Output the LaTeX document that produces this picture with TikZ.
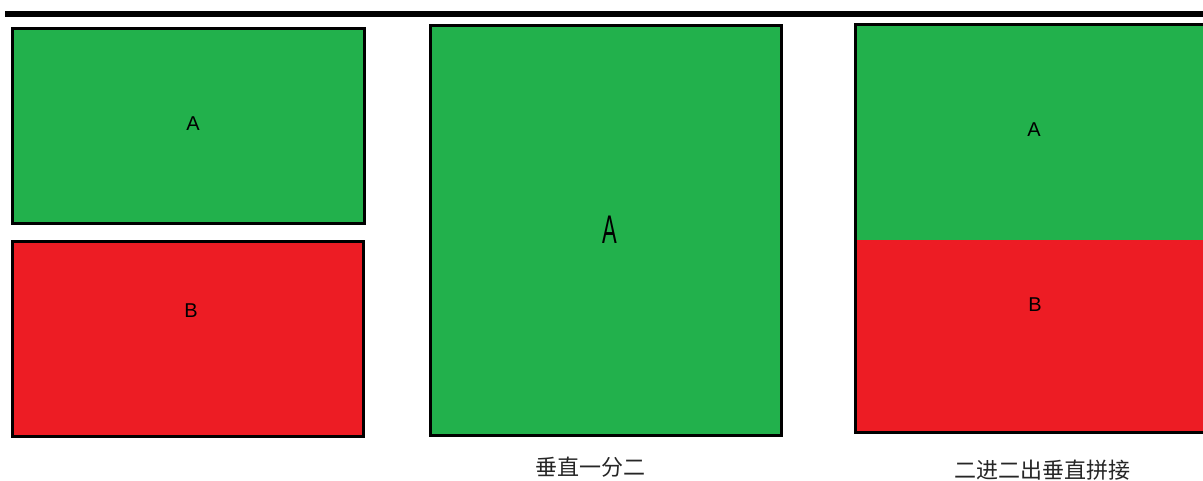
\documentclass[tikz,border=0pt]{standalone}
\usepackage{fontspec}
\setmainfont{Liberation Sans}
\newfontfamily\cjk{Noto Sans CJK SC}
\usepackage{xcolor}
\usetikzlibrary{positioning}
\definecolor{spGreen}{HTML}{22B14C}
\definecolor{spRed}{HTML}{ED1C24}
\definecolor{spInk}{HTML}{000000}
\tikzset{
  sp diagram/.style={font=\fontsize{20}{23}\selectfont, text=spInk},
  sp box/.style={draw=spInk, line width=3pt, inner sep=0pt, outer sep=0pt},
  sp green/.style={sp box, fill=spGreen},
  sp red/.style={sp box, fill=spRed},
  sp caption/.style={font=\cjk\fontsize{22}{25}\selectfont, text=spInk!85}
}
\begin{document}
\begin{tikzpicture}[sp diagram,x=1pt,y=-1pt]
\useasboundingbox (0,0) rectangle (1203,481);
\draw[line width=6pt] (5,14) -- (1210,14);
% two inputs
\node[sp green,minimum width=352,minimum height=195] (inA) at (188.5,126) {};
\node (inAlabel) at (193,124) {A};
\node[sp red,minimum width=351,minimum height=195] (inB) at (188,339) {};
\node (inBlabel) at (191,311) {B};
% vertical split
\node[sp green,minimum width=351,minimum height=409] (split) at (606,230.5) {};
\node[xscale=0.55,font=\fontsize{40}{42}\selectfont] (splitA) at (610,230) {A};
\node[sp caption] (splitCap) at (590,467) {垂直一分二};
% vertical join
\fill[spGreen] (855,25) rectangle (1210,240);
\fill[spRed] (855,240) rectangle (1210,432);
\draw[line width=3pt] (1210,25) -- (855,25) -- (855,432) -- (1210,432);
\node (joinA) at (1034,130) {A};
\node (joinB) at (1035,305) {B};
\node[sp caption] (joinCap) at (1042,470) {二进二出垂直拼接};
\end{tikzpicture}
\end{document}
